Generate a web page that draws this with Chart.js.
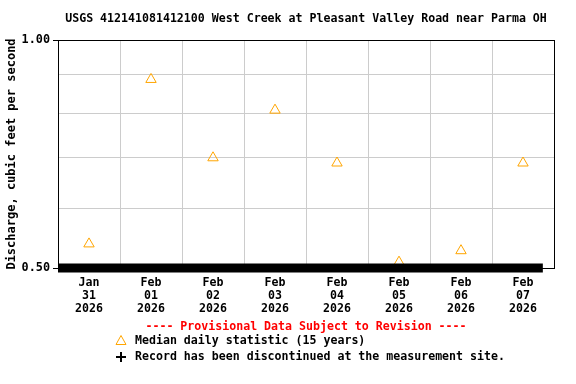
<!DOCTYPE html>
<html>
<head>
<meta charset="utf-8">
<script src="https://cdn.jsdelivr.net/npm/chart.js@4/dist/chart.umd.min.js"></script>
<style>
  html, body { margin: 0; padding: 0; background: #fff; }
  canvas { display: block; }
</style>
</head>
<body>
<canvas id="chart" width="576" height="384"></canvas>
<script>
const titleText = "USGS 412141081412100 West Creek at Pleasant Valley Road near Parma OH";
const dayLabels = [
  ["Jan", "31", "2026"], ["Feb", "01", "2026"], ["Feb", "02", "2026"], ["Feb", "03", "2026"],
  ["Feb", "04", "2026"], ["Feb", "05", "2026"], ["Feb", "06", "2026"], ["Feb", "07", "2026"],
];
const medianValues = [0.538, 0.887, 0.699, 0.808, 0.688, 0.509, 0.527, 0.688];
const yTicks = [0.5, 0.6, 0.7, 0.8, 0.9, 1.0];
const yLabelled = { 0.5: "0.50", 1.0: "1.00" };
// thick black bar along the bottom, from start of record to ~Feb 7 evening
const barStart = 0;
const barEnd = 7.82;
const barValue = 0.5;

const FONT = "'DejaVu Sans Mono', monospace";
const ORANGE = "#ffa500";

const extras = {
  id: "extras",
  beforeDatasetsDraw(chart) {
    // black frame round the plot
    const ctx = chart.ctx;
    const a = chart.chartArea;
    ctx.save();
    ctx.strokeStyle = "#000";
    ctx.lineWidth = 1;
    ctx.strokeRect(Math.round(a.left) + 0.5, Math.round(a.top) + 0.5,
      Math.round(a.right - a.left), Math.round(a.bottom - a.top));
    ctx.restore();
  },
  afterDraw(chart) {
    const ctx = chart.ctx;
    const area = chart.chartArea;
    ctx.save();
    ctx.fillStyle = "#000";
    ctx.font = "bold 11.6px " + FONT;
    ctx.textAlign = "center";
    ctx.textBaseline = "middle";
    ctx.fillText(titleText, (area.left + area.right) / 2, 19);

    ctx.fillStyle = "#ff0000";
    ctx.fillText("---- Provisional Data Subject to Revision ----", 306, 327);

    ctx.textAlign = "left";
    ctx.fillStyle = "#000";
    ctx.fillText("Median daily statistic (15 years)", 135, 341);
    ctx.fillText("Record has been discontinued at the measurement site.", 135, 357);

    // legend triangle
    ctx.strokeStyle = ORANGE;
    ctx.lineWidth = 1;
    ctx.beginPath();
    ctx.moveTo(121, 335.5);
    ctx.lineTo(126, 344.5);
    ctx.lineTo(116, 344.5);
    ctx.closePath();
    ctx.stroke();

    // legend plus
    ctx.fillStyle = "#000";
    ctx.fillRect(116, 356, 10, 2);
    ctx.fillRect(120, 352, 2, 10);
    ctx.restore();
  },
};

new Chart(document.getElementById("chart"), {
  type: "line",
  data: {
    datasets: [
      {
        label: "Record",
        data: [{ x: barStart, y: barValue }, { x: barEnd, y: barValue }],
        borderColor: "#000",
        borderWidth: 9,
        borderCapStyle: "butt",
        pointRadius: 0,
        clip: false,
      },
      {
        label: "Median daily statistic (15 years)",
        data: medianValues.map((v, i) => ({ x: i + 0.5, y: v })),
        showLine: false,
        pointStyle: "triangle",
        pointRadius: 6,
        borderColor: ORANGE,
        backgroundColor: "rgba(255,255,255,0)",
        borderWidth: 1,
        clip: false,
      },
    ],
  },
  options: {
    responsive: false,
    animation: false,
    layout: { padding: { top: 40, right: 22, left: 0, bottom: 0 } },
    plugins: {
      legend: { display: false },
      title: { display: false },
      tooltip: { enabled: false },
    },
    scales: {
      x: {
        type: "linear",
        min: 0,
        max: 8,
        border: { display: true, color: "#000", width: 1 },
        grid: { color: "#cccccc", drawTicks: false },
        afterBuildTicks: (scale) => {
          scale.ticks = [0, 1, 2, 3, 4, 5, 6, 7, 8].map((v) => ({ value: v }));
        },
        afterFit: (scale) => { scale.height = 116; },
        ticks: {
          autoSkip: false,
          maxRotation: 0,
          padding: 9,
          labelOffset: 31,
          color: "#000",
          font: { family: FONT, size: 11.6, weight: "bold", lineHeight: 1.1 },
          callback: (v) => dayLabels[v] || "",
        },
      },
      y: {
        type: "logarithmic",
        min: 0.5,
        max: 1.0,
        border: { display: true, color: "#000", width: 1 },
        grid: {
          color: "#cccccc",
          tickLength: 5,
          tickColor: (c) => (yLabelled[c.tick && c.tick.value] ? "#000" : "rgba(0,0,0,0)"),
        },
        afterBuildTicks: (scale) => {
          scale.ticks = yTicks.map((v) => ({ value: v }));
        },
        afterFit: (scale) => { scale.width = 58; },
        ticks: {
          padding: 3,
          color: "#000",
          font: { family: FONT, size: 11.8, weight: "bold" },
          callback: (v) => yLabelled[v] || "",
        },
        title: {
          display: true,
          text: "Discharge, cubic feet per second",
          color: "#000",
          font: { family: FONT, size: 12, weight: "bold" },
          padding: { top: 5, bottom: 0 },
        },
      },
    },
  },
  plugins: [extras],
});
</script>
</body>
</html>
